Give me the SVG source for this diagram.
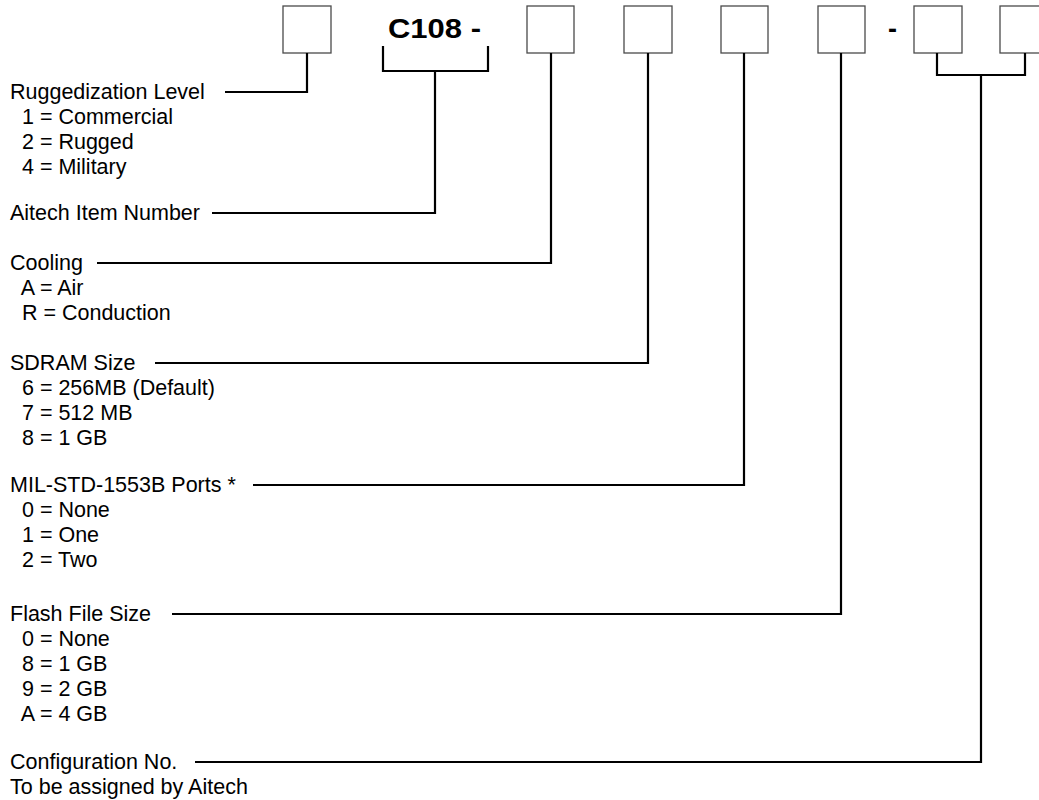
<svg xmlns="http://www.w3.org/2000/svg" width="1039" height="800" viewBox="0 0 1039 800">
<style>
.box{fill:#fff;stroke:#4a4a4a;stroke-width:1.3}
.t{font-family:"Liberation Sans",Arial,sans-serif;font-size:21.5px;fill:#000}
.b{font-family:"Liberation Sans",Arial,sans-serif;font-size:27px;font-weight:bold;fill:#000}
.c{fill:none;stroke:#000;stroke-width:2.2}
</style>
<rect width="1039" height="800" fill="#fff"/>
<g id="boxes">
<g id="box1"><rect class="box" x="283" y="6" width="48" height="47"/></g>
<g id="prefix"><text class="b" x="388" y="38" textLength="93" lengthAdjust="spacingAndGlyphs">C108 -</text></g>
<g id="box2"><rect class="box" x="527" y="6" width="47" height="47"/></g>
<g id="box3"><rect class="box" x="624" y="6" width="48" height="47"/></g>
<g id="box4"><rect class="box" x="721" y="6" width="47" height="47"/></g>
<g id="box5"><rect class="box" x="818" y="6" width="47" height="47"/></g>
<g id="dash"><text class="b" x="892.5" y="38" text-anchor="middle">-</text></g>
<g id="box6"><rect class="box" x="914" y="6" width="48" height="47"/></g>
<g id="box7"><rect class="box" x="1000" y="6" width="48" height="47"/></g>
</g>
<g id="connectors">
<polyline class="c" points="225,92 307,92 307,53"/>
<polyline class="c" points="383,46 383,71 488,71 488,46"/>
<polyline class="c" points="212,213 435,213 435,71"/>
<polyline class="c" points="97,263 551,263 551,53"/>
<polyline class="c" points="155,363 648,363 648,53"/>
<polyline class="c" points="253,485 744,485 744,53"/>
<polyline class="c" points="172,614 841,614 841,53"/>
<polyline class="c" points="937,53 937,75 1025,75 1025,53"/>
<polyline class="c" points="195,762 981,762 981,75"/>
</g>
<g id="ruggedization">
<text class="t" x="10" y="99">Ruggedization Level</text>
<text class="t" x="10" y="124" xml:space="preserve">  1 = Commercial</text>
<text class="t" x="10" y="149" xml:space="preserve">  2 = Rugged</text>
<text class="t" x="10" y="174" xml:space="preserve">  4 = Military</text>
</g>
<g id="item">
<text class="t" x="10" y="220">Aitech Item Number</text>
</g>
<g id="cooling">
<text class="t" x="10" y="270">Cooling</text>
<text class="t" x="10" y="295" xml:space="preserve">  A = Air</text>
<text class="t" x="10" y="320" xml:space="preserve">  R = Conduction</text>
</g>
<g id="sdram">
<text class="t" x="10" y="370">SDRAM Size</text>
<text class="t" x="10" y="395" xml:space="preserve">  6 = 256MB (Default)</text>
<text class="t" x="10" y="420" xml:space="preserve">  7 = 512 MB</text>
<text class="t" x="10" y="445" xml:space="preserve">  8 = 1 GB</text>
</g>
<g id="mil">
<text class="t" x="10" y="492">MIL-STD-1553B Ports *</text>
<text class="t" x="10" y="517" xml:space="preserve">  0 = None</text>
<text class="t" x="10" y="542" xml:space="preserve">  1 = One</text>
<text class="t" x="10" y="567" xml:space="preserve">  2 = Two</text>
</g>
<g id="flash">
<text class="t" x="10" y="621">Flash File Size</text>
<text class="t" x="10" y="646" xml:space="preserve">  0 = None</text>
<text class="t" x="10" y="671" xml:space="preserve">  8 = 1 GB</text>
<text class="t" x="10" y="696" xml:space="preserve">  9 = 2 GB</text>
<text class="t" x="10" y="721" xml:space="preserve">  A = 4 GB</text>
</g>
<g id="config">
<text class="t" x="10" y="769">Configuration No.</text>
<text class="t" x="10" y="794">To be assigned by Aitech</text>
</g>
</svg>
